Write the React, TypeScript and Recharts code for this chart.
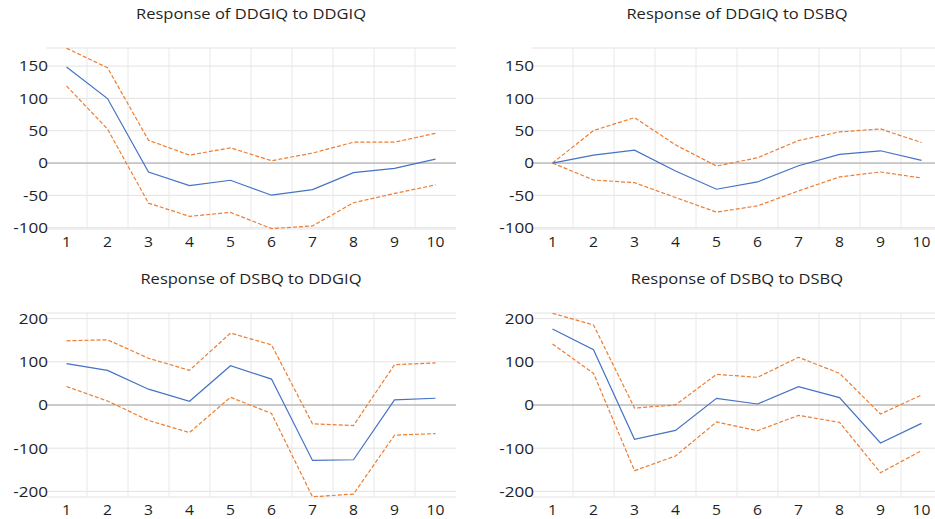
import { CartesianGrid, Line, LineChart, ReferenceLine, XAxis, YAxis } from "recharts";

const steps = [1, 2, 3, 4, 5, 6, 7, 8, 9, 10];

// Response of DDGIQ to DDGIQ
const ddgiqDdgiq = [148.5, 99.8, -13.8, -34.8, -26.6, -49.7, -41, -14.8, -8.2, 6.1];
const ddgiqDdgiqUpper = [177.7, 147.5, 35.3, 12.3, 23.6, 3.6, 15.4, 32.3, 32.3, 46];
const ddgiqDdgiqLower = [119.3, 52.7, -62, -82.4, -76.3, -101.4, -97.3, -61.4, -47, -33.8];

// Response of DDGIQ to DSBQ
const ddgiqDsbq = [0, 12.3, 20, -12.3, -40.5, -29.2, -4.1, 13.3, 19, 4.1];
const ddgiqDsbqUpper = [0, 50.3, 70.3, 28.2, -4.6, 8.2, 34.9, 48.2, 52.8, 31.8];
const ddgiqDsbqLower = [0, -26.2, -30.3, -53.3, -75.9, -66.2, -43.1, -21.5, -13.8, -23.1];

// Response of DSBQ to DDGIQ
const dsbqDdgiq = [95.7, 80.2, 36.6, 8.6, 91, 60, -128.4, -126.8, 11.7, 15.6];
const dsbqDdgiqUpper = [148.6, 151, 108.2, 80.2, 166.5, 139.3, -43.6, -47.5, 93.4, 97.3];
const dsbqDdgiqLower = [42.8, 9.3, -35.8, -63.8, 17.9, -19.5, -212.5, -206.2, -70, -66.1];

// Response of DSBQ to DSBQ
const dsbqDsbq = [176, 128.2, -79.5, -58.7, 15.4, 2.3, 42.5, 17, -88, -42.5];
const dsbqDsbqUpper = [212.4, 185.3, -7, 0, 71, 64.1, 110.4, 73.4, -20.8, 23.2];
const dsbqDsbqLower = [141.3, 73.4, -152, -118, -39.4, -59.5, -24, -40.2, -156.8, -105.8];

const topTicks = [-100, -50, 0, 50, 100, 150];
const bottomTicks = [-200, -100, 0, 100, 200];
const boundaries = [1.5, 2.5, 3.5, 4.5, 5.5, 6.5, 7.5, 8.5, 9.5];

const FONT = "'Open Sans', sans-serif";
const TEXT = "#1f1f1f";

const build = (mid: number[], up: number[], lo: number[]) =>
  steps.map((s, i) => ({ step: s, mid: mid[i], up: up[i], lo: lo[i] }));

// the source picture is a little stretched sideways, so the labels are too
const YTick = (props: any) => {
  const { x, y, payload } = props;
  return (
    <text
      transform={`translate(${x + 2},${y}) scale(1.22,1)`}
      textAnchor="end"
      dominantBaseline="central"
      fontSize={14}
      fill={TEXT}
      fontFamily={FONT}
    >
      {payload.value}
    </text>
  );
};

const XTick = (props: any) => {
  const { x, y, payload } = props;
  return (
    <text
      transform={`translate(${x},${y}) scale(1.12,1)`}
      textAnchor="middle"
      dy="0.71em"
      fontSize={14}
      fill={TEXT}
      fontFamily={FONT}
    >
      {payload.value}
    </text>
  );
};

interface PanelProps {
  title: string;
  left: number;
  top: number;
  width: number;
  axisWidth: number;
  marginTop: number;
  marginBottom: number;
  data: any[];
  domain: [number, number];
  ticks: number[];
}

const Panel = ({ title, left, top, width, axisWidth, marginTop, marginBottom, data, domain, ticks }: PanelProps) => {
  const plotWidth = 410;
  return (
    <div style={{ position: "absolute", left, top, width, height: 260 }}>
      <div
        style={{
          position: "absolute",
          left: axisWidth,
          width: plotWidth,
          top: marginTop - 44,
          textAlign: "center",
          fontFamily: FONT,
          fontSize: 14,
          color: TEXT,
          lineHeight: "20px",
          transform: "scaleX(1.18)",
        }}
      >
        {title}
      </div>
      <LineChart
        width={width}
        height={260}
        data={data}
        margin={{ top: marginTop, right: width - axisWidth - plotWidth, bottom: marginBottom, left: 0 }}
      >
        <CartesianGrid vertical={false} stroke="#e3e3e3" />
        {boundaries.map((b) => (
          <ReferenceLine key={b} x={b} stroke="#e8e8e8" />
        ))}
        <ReferenceLine y={0} stroke="#a6a6a6" />
        <XAxis
          dataKey="step"
          type="number"
          domain={[0.5, 10.5]}
          ticks={steps}
          allowDataOverflow
          axisLine={false}
          tickLine={false}
          height={25}
          tick={<XTick />}
        />
        <YAxis
          domain={domain}
          ticks={ticks}
          allowDataOverflow
          axisLine={false}
          tickLine={false}
          tickSize={0}
          tickMargin={0}
          width={axisWidth}
          tick={<YTick />}
        />
        <Line dataKey="up" stroke="#ED7D31" strokeWidth={1.2} strokeDasharray="4 2" dot={false} isAnimationActive={false} />
        <Line dataKey="lo" stroke="#ED7D31" strokeWidth={1.2} strokeDasharray="4 2" dot={false} isAnimationActive={false} />
        <Line dataKey="mid" stroke="#4472C4" strokeWidth={1.2} dot={false} isAnimationActive={false} />
      </LineChart>
    </div>
  );
};

export default function App() {
  return (
    <div style={{ position: "absolute", left: 0, top: 0, width: 935, height: 519, overflow: "hidden", background: "#fff" }}>
      <Panel
        title="Response of DDGIQ to DDGIQ"
        left={0}
        top={0}
        width={470}
        axisWidth={46}
        marginTop={48}
        marginBottom={6}
        data={build(ddgiqDdgiq, ddgiqDdgiqUpper, ddgiqDdgiqLower)}
        domain={[-102, 178]}
        ticks={topTicks}
      />
      <Panel
        title="Response of DDGIQ to DSBQ"
        left={465}
        top={0}
        width={490}
        axisWidth={67}
        marginTop={48}
        marginBottom={6}
        data={build(ddgiqDsbq, ddgiqDsbqUpper, ddgiqDsbqLower)}
        domain={[-102, 178]}
        ticks={topTicks}
      />
      <Panel
        title="Response of DSBQ to DDGIQ"
        left={0}
        top={260}
        width={470}
        axisWidth={46}
        marginTop={53}
        marginBottom={-2}
        data={build(dsbqDdgiq, dsbqDdgiqUpper, dsbqDdgiqLower)}
        domain={[-213, 213]}
        ticks={bottomTicks}
      />
      <Panel
        title="Response of DSBQ to DSBQ"
        left={465}
        top={260}
        width={490}
        axisWidth={67}
        marginTop={53}
        marginBottom={-2}
        data={build(dsbqDsbq, dsbqDsbqUpper, dsbqDsbqLower)}
        domain={[-213, 213]}
        ticks={bottomTicks}
      />
    </div>
  );
}
